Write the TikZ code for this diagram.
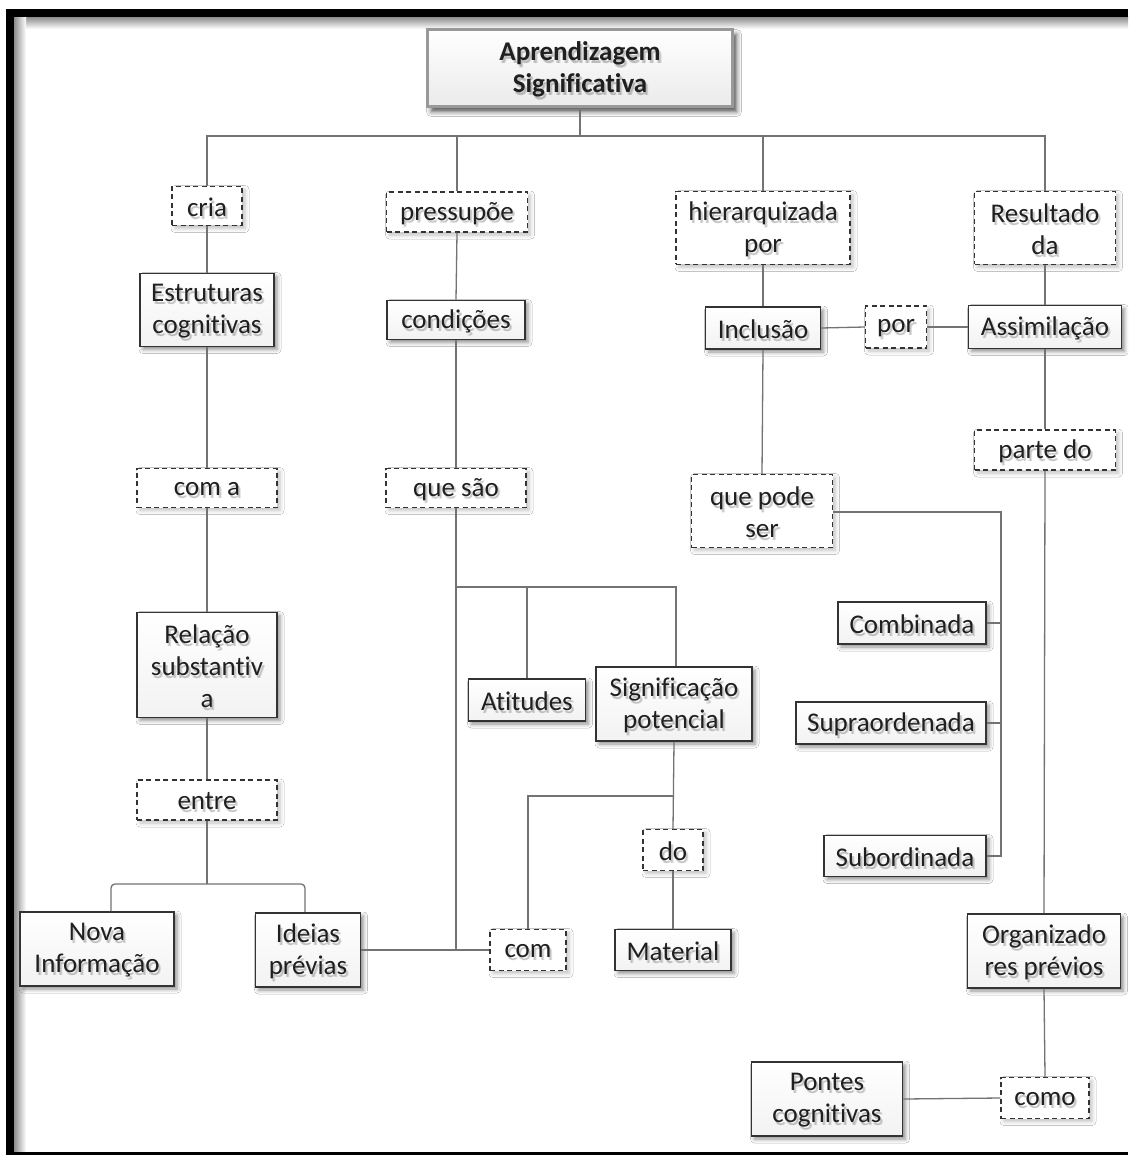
\documentclass[tikz,border=0pt]{standalone}
\usepackage{fontspec}
\setmainfont{Carlito}[Ligatures=NoCommon]
\usetikzlibrary{shadows.blur}

\tikzset{
  boxbase/.style={inner sep=0pt, align=center, rectangle},
  solidbox/.style={boxbase, draw=black!80, line width=1.6pt,
    top color=white, bottom color=black!5,
    blur shadow={shadow xshift=3pt, shadow yshift=-3pt, shadow blur radius=4pt, shadow opacity=45}},
  dashbox/.style={boxbase, draw=black!80, line width=1.3pt,
    dash pattern=on 5pt off 3.5pt, fill=white,
    blur shadow={shadow xshift=3pt, shadow yshift=-3pt, shadow blur radius=4pt, shadow opacity=25}},
  titlebox/.style={boxbase, draw=black!40, line width=2.4pt,
    top color=white, bottom color=black!8,
    blur shadow={shadow xshift=4pt, shadow yshift=-5pt, shadow blur radius=5pt, shadow opacity=70}},
  label/.style={inner sep=0pt, align=center, text=black!88, yshift=-1.5pt,
    font=\fontsize{27}{32}\selectfont},
  labelshade/.style={label, text=black, opacity=#1},
  link/.style={draw=black!55, line width=1.3pt},
}

% box with a soft shadow under its text
\newcommand\mapnode[4]{%
  \node[#2] (#1) at (#3) {};
  \node[labelshade=0.12, xshift=2.5pt, yshift=-2.5pt] (#1-s1) at (#3) {#4};
  \node[labelshade=0.12, xshift=1.5pt, yshift=-3pt] (#1-s2) at (#3) {#4};
  \node[label] (#1-t) at (#3) {#4};
}

\begin{document}
\begin{tikzpicture}[x=1pt, y=-1pt]
\useasboundingbox (0,0) rectangle (1128,1155);
\fill[white] (0,0) rectangle (1128,1155);

% frame with inner shading
\shade[top color=black!45, bottom color=white] (14,17) rectangle (1128,29);
\shade[left color=black!45, right color=white] (14,17) rectangle (26,1152);
\fill[black] (6,9) rectangle (1128,17);
\fill[black] (6,9) rectangle (14,1155);
\fill[black] (6,1152) rectangle (1128,1155);

% nodes
\mapnode{title}{titlebox, minimum width=305, minimum height=77}{580,68}{\bfseries Aprendizagem\\\bfseries Significativa}

\mapnode{cria}{dashbox, minimum width=70, minimum height=39}{207,206}{cria}
\mapnode{pres}{dashbox, minimum width=141, minimum height=40}{457,212}{pressupõe}
\mapnode{hier}{dashbox, minimum width=174, minimum height=73}{763,228}{hierarquizada\\por}
\mapnode{result}{dashbox, minimum width=141, minimum height=73}{1045,228}{Resultado\\da}

\mapnode{estr}{solidbox, minimum width=134, minimum height=73}{207,310}{Estruturas\\cognitivas}
\mapnode{cond}{solidbox, minimum width=138, minimum height=39}{456,320}{condições}
\mapnode{incl}{solidbox, minimum width=115, minimum height=42}{763,328}{Inclusão}
\mapnode{por}{dashbox, minimum width=61, minimum height=42}{896,327}{por}
\mapnode{assim}{solidbox, minimum width=153, minimum height=43}{1045,327}{Assimilação}

\mapnode{coma}{dashbox, minimum width=140, minimum height=39}{207,488}{com a}
\mapnode{quesao}{dashbox, minimum width=140, minimum height=39}{456,488}{que são}
\mapnode{quepode}{dashbox, minimum width=141, minimum height=73}{762,511}{que pode\\ser}
\mapnode{parte}{dashbox, minimum width=141, minimum height=40}{1045,450}{parte do}

\mapnode{comb}{solidbox, minimum width=148, minimum height=42}{912,623}{Combinada}
\mapnode{supra}{solidbox, minimum width=190, minimum height=42}{891,723}{Supraordenada}
\mapnode{subo}{solidbox, minimum width=162, minimum height=41}{905,856}{Subordinada}

\mapnode{rel}{solidbox, minimum width=140, minimum height=105}{207,665}{Relação\\substantiv\\a}
\mapnode{atit}{solidbox, minimum width=117, minimum height=42}{527,700}{Atitudes}
\mapnode{signif}{solidbox, minimum width=156, minimum height=74}{674,704}{Significação\\potencial}
\mapnode{entre}{dashbox, minimum width=140, minimum height=40}{207,800}{entre}
\mapnode{do}{dashbox, minimum width=60, minimum height=41}{673,850}{do}

\mapnode{nova}{solidbox, minimum width=154, minimum height=74}{97,949}{Nova\\Informação}
\mapnode{ideias}{solidbox, minimum width=105, minimum height=74}{308,950}{Ideias\\prévias}
\mapnode{com}{dashbox, minimum width=76, minimum height=41}{528,950}{com}
\mapnode{mat}{solidbox, minimum width=116, minimum height=41}{673,950}{Material}
\mapnode{org}{solidbox, minimum width=153, minimum height=74}{1044,951}{Organizado\\res prévios}

\mapnode{como}{dashbox, minimum width=88, minimum height=41}{1045,1098}{como}
\mapnode{pontes}{solidbox, minimum width=151, minimum height=74}{827,1099}{Pontes\\cognitivas}

% connector junctions
\coordinate (bus) at (580,136);
\coordinate (fork) at (457,587);
\coordinate (knee) at (674,796);
\coordinate (split) at (207,884);
\coordinate (railtop) at (1001,512);
\coordinate (railbot) at (1001,856);

% connectors
\draw[link] (title.south) -- (bus);
\draw[link] (cria.north) |- (bus) -| (result.north);
\draw[link] (pres.north) -- (pres.north |- bus);
\draw[link] (hier.north) -- (hier.north |- bus);

\draw[link] (cria.south) -- (estr.north);
\draw[link] (estr.south) -- (coma.north);
\draw[link] (coma.south) -- (rel.north);
\draw[link] (rel.south) -- (entre.north);
\draw[link] (entre.south) -- (split);
\draw[link, rounded corners=4pt] ([xshift=14pt]nova.north) |- (split) -| ([xshift=-3pt]ideias.north);

\draw[link] (pres.south) -- (cond.north);
\draw[link] (cond.south) -- (quesao.north);
\draw[link] (quesao.south) -- (quesao.south |- com.west);
\draw[link] (fork) -| ([xshift=2pt]signif.north);
\draw[link] (atit.north) -- (atit.north |- fork);
\draw[link] (signif.south) -- (do.north);
\draw[link] (do.south) -- (mat.north);
\draw[link] (knee) -| (com.north);
\draw[link] (ideias.east) -- (com.west);

\draw[link] (hier.south) -- (incl.north);
\draw[link] (incl.east) -- (por.west);
\draw[link] (por.east) -- (assim.west);
\draw[link] (incl.south) -- (quepode.north);
\draw[link] (quepode.east |- railtop) -- (railtop) -- (railbot) -- (subo.east);
\draw[link] (comb.east) -- (comb.east -| railtop);
\draw[link] (supra.east) -- (supra.east -| railtop);

\draw[link] (result.south) -- (assim.north);
\draw[link] (assim.south) -- (parte.north);
\draw[link] (parte.south) -- (org.north);
\draw[link] (org.south) -- (como.north);
\draw[link] (como.west) -- (pontes.east);
\end{tikzpicture}
\end{document}
